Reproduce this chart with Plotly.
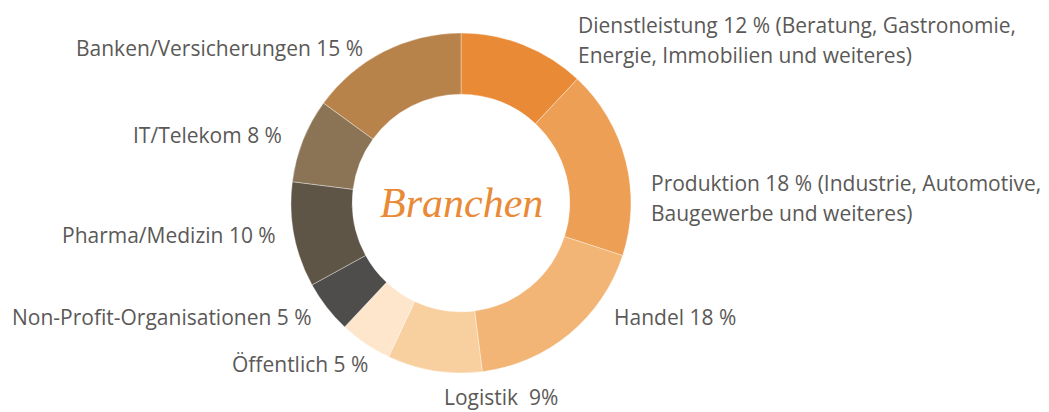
"""
Branchen donut chart
"""

import plotly.graph_objects as go

W, H = 1049, 412
OFF = 8  # page body margin in the browser shifts the figure by 8px

# slices, clockwise from 12 o'clock
branchen = ['Dienstleistung', 'Produktion', 'Handel', 'Logistik', 'Öffentlich',
            'Non-Profit-Organisationen', 'Pharma/Medizin', 'IT/Telekom', 'Banken/Versicherungen']
anteile = [12, 18, 18, 9, 5, 5, 10, 8, 15]
farben = ['#E98A36', '#EDA055', '#F3B576', '#F8D0A0', '#FDE6CC',
          '#4F4D4B', '#5E5546', '#8B7455', '#B8834B']

# outside labels, one entry per line
label_zeilen = [
    ['Dienstleistung 12 % (Beratung, Gastronomie,', 'Energie, Immobilien und weiteres)'],
    ['Produktion 18 % (Industrie, Automotive,', 'Baugewerbe und weiteres)'],
    ['Handel 18 %'],
    ['Logistik  9%'],
    ['Öffentlich 5 %'],
    ['Non-Profit-Organisationen 5 %'],
    ['Pharma/Medizin 10 %'],
    ['IT/Telekom 8 %'],
    ['Banken/Versicherungen 15 %'],
]

# label anchor in page pixels: (x, y of first line, xanchor)
label_pos = [
    (576, 25, 'left'),
    (649, 183, 'left'),
    (612, 317, 'left'),
    (501, 397, 'center'),
    (300, 364, 'center'),
    (314, 317, 'right'),
    (278, 235, 'right'),
    (284, 135, 'right'),
    (365, 48, 'right'),
]
zeilen_abstand = 30

cx, cy, r = 461 - OFF, 203 - OFF, 170


def fx(px):
    return (px - OFF) / W


def fy(py):
    return 1 - (py - OFF) / H


fig = go.Figure()
fig.add_trace(go.Pie(
    labels=branchen, values=anteile,
    hole=0.64, sort=False, direction='clockwise', rotation=0,
    marker=dict(colors=farben, line=dict(color='rgba(255,255,255,0.6)', width=0.6)),
    textinfo='none', hoverinfo='label+percent', showlegend=False,
    domain=dict(x=[(cx - r) / W, (cx + r) / W], y=[(H - cy - r) / H, (H - cy + r) / H]),
))

annos = []
for zeilen, (px, py, anchor) in zip(label_zeilen, label_pos):
    for k, z in enumerate(zeilen):
        annos.append(dict(
            text=z, x=fx(px), y=fy(py + k * zeilen_abstand),
            xref='paper', yref='paper', xanchor=anchor, yanchor='middle',
            showarrow=False, font=dict(family='Open Sans', size=21, color='#5B5957'),
        ))
annos.append(dict(
    text='<i>Branchen</i>', x=cx / W, y=1 - cy / H, xref='paper', yref='paper',
    xanchor='center', yanchor='middle', showarrow=False,
    font=dict(family='Liberation Serif', size=42, color='#E98A36'),
))

fig.update_layout(
    width=W, height=H, margin=dict(l=0, r=0, t=0, b=0),
    paper_bgcolor='white', plot_bgcolor='white',
    annotations=annos,
)

fig.write_html("out.html")
